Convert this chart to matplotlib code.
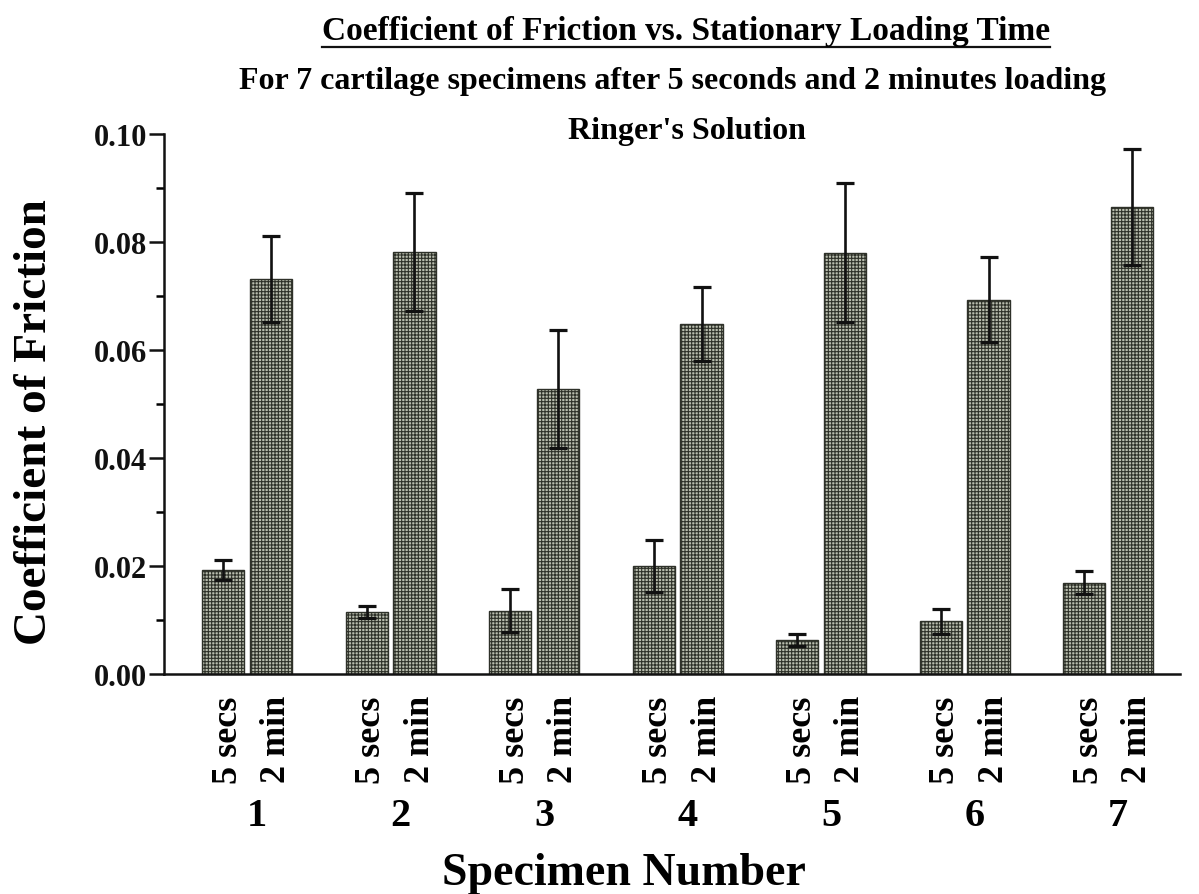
import numpy as np
import matplotlib
matplotlib.use("Agg")
import matplotlib.pyplot as plt
from matplotlib.lines import Line2D
from matplotlib.ticker import MultipleLocator, FormatStrFormatter

# friction coefficients per specimen, mean and error
specimens = [1, 2, 3, 4, 5, 6, 7]
cof_5s = [0.0193, 0.0115, 0.0117, 0.0200, 0.0063, 0.0098, 0.0169]
err_5s = [0.0019, 0.0011, 0.0040, 0.0049, 0.0011, 0.0023, 0.0021]
cof_2min = [0.0731, 0.0781, 0.0528, 0.0648, 0.0780, 0.0693, 0.0865]
err_2min = [0.0080, 0.0109, 0.0109, 0.0069, 0.0129, 0.0079, 0.0108]
load_labels = ["5 secs", "2 min"]

plt.rcParams['font.family'] = ['Liberation Serif', 'DejaVu Serif']
plt.rcParams['font.weight'] = 'bold'
plt.rcParams['hatch.linewidth'] = 0.8
plt.rcParams['hatch.color'] = '#3f443a'

fig = plt.figure(figsize=(11.99, 8.95), dpi=100)
ax = fig.add_axes([0.1368, 0.2458, 0.8474, 0.6034])

x = np.array(specimens, dtype=float)
w = 0.293
off = 0.167
bar_kw = dict(width=w, color='#b9bdae', edgecolor='#2e3129', linewidth=1.0,
              hatch='+++++', zorder=2)
err_kw = dict(fmt='none', ecolor='#111111', elinewidth=1.9, capsize=6.5,
              capthick=2.3, zorder=3)

ax.bar(x - off, cof_5s, **bar_kw)
ax.bar(x + off, cof_2min, **bar_kw)
ax.errorbar(x - off, cof_5s, yerr=err_5s, **err_kw)
ax.errorbar(x + off, cof_2min, yerr=err_2min, **err_kw)

ax.set_xlim(0.4216, 7.5017)
ax.set_ylim(0, 0.10)

for s in ['top', 'right']:
    ax.spines[s].set_visible(False)
for s in ['left', 'bottom']:
    ax.spines[s].set_linewidth(1.8)
    ax.spines[s].set_color('#111111')

ax.yaxis.set_major_locator(MultipleLocator(0.02))
ax.yaxis.set_minor_locator(MultipleLocator(0.01))
ax.yaxis.set_major_formatter(FormatStrFormatter('%.2f'))
ax.tick_params(axis='y', which='major', direction='out', length=11, width=1.8,
               pad=1, labelsize=22, colors='#111111')
ax.tick_params(axis='y', which='minor', direction='out', length=6, width=1.8)
ax.tick_params(axis='x', which='both', bottom=False, labelbottom=False)

# rotated load-time labels under each bar, specimen number below
tr = ax.get_xaxis_transform()
for xi in x:
    ax.text(xi - off + 0.035, -0.12, load_labels[0], rotation=90, ha='center',
            va='center', fontsize=26, fontweight='bold', transform=tr)
    ax.text(xi + off + 0.04, -0.12, load_labels[1], rotation=90, ha='center',
            va='center', fontsize=26, fontweight='bold', transform=tr)
for xi, n in zip(x, specimens):
    ax.text(xi + 0.07, -0.262, str(n), ha='center', va='center', fontsize=29,
            fontweight='bold', transform=tr)

fig.text(0.52, 1 - 885 / 895, "Specimen Number", ha='center', va='baseline',
         fontsize=33, fontweight='bold')
fig.text(0.029, 1 - 422 / 895, "Coefficient of Friction", rotation=90,
         ha='center', va='center', fontsize=34, fontweight='bold')

title = fig.text(0.572, 1 - 40 / 895,
                 "Coefficient of Friction vs. Stationary Loading Time",
                 ha='center', va='baseline', fontsize=24, fontweight='bold')
fig.text(0.561, 1 - 89 / 895,
         "For 7 cartilage specimens after 5 seconds and 2 minutes loading",
         ha='center', va='baseline', fontsize=23, fontweight='bold')
fig.text(0.573, 1 - 139 / 895, "Ringer's Solution", ha='center',
         va='baseline', fontsize=23, fontweight='bold')

# underline the main title
fig.canvas.draw()
bb = title.get_window_extent()
y_line = bb.y0 - 1
fig.add_artist(Line2D([bb.x0, bb.x1], [y_line, y_line], transform=None,
                      color='#111111', linewidth=1.6))

fig.savefig('out.png', dpi=100)
